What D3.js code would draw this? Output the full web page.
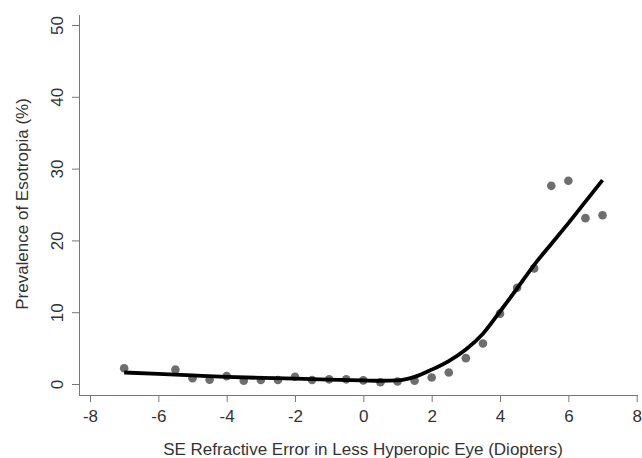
<!DOCTYPE html>
<html>
<head>
<meta charset="utf-8">
<script src="https://cdn.jsdelivr.net/npm/d3@7"></script>
<style>
  body { margin: 0; background: #fff; }
  text { font-family: "Liberation Sans", Arial, sans-serif; }
</style>
</head>
<body>
<svg width="642" height="458"></svg>
<script>
// observed prevalence by refractive error
var obsX = [-7, -5.5, -5, -4.5, -4, -3.5, -3, -2.5, -2, -1.5, -1, -0.5, 0, 0.5, 1, 1.5, 2, 2.5, 3, 3.5, 4, 4.5, 5, 5.5, 6, 6.5, 7]
var obsY = [2.2, 2.0, 0.8, 0.6, 1.1, 0.45, 0.55, 0.55, 1.0, 0.55, 0.65, 0.65, 0.5, 0.25, 0.35, 0.45, 0.9, 1.6, 3.6, 5.65, 9.8, 13.4, 16.1, 27.6, 28.3, 23.1, 23.5]

// fitted curve
var fitX = [-7, -6, -5, -4, -3, -2, -1, 0, 0.5, 1, 1.5, 2, 2.5, 3, 3.5, 4, 4.5, 5, 5.5, 6, 6.5, 7]
var fitY = [1.6, 1.4, 1.2, 1.0, 0.85, 0.75, 0.6, 0.5, 0.45, 0.5, 1.0, 2.0, 3.2, 4.8, 7.0, 10.1, 13.3, 16.6, 19.5, 22.4, 25.4, 28.4]

var xTicks = [-8, -6, -4, -2, 0, 2, 4, 6, 8]
var yTicks = [0, 10, 20, 30, 40, 50]

var svg = d3.select("svg")

var x = d3.scaleLinear().domain([-8, 8]).range([90, 636.7])
var y = d3.scaleLinear().domain([0, 50]).range([384, 25])

// x axis
var gx = svg.append("g")
    .attr("transform", "translate(0,395)")
    .call(d3.axisBottom(x).tickValues(xTicks).tickFormat(d => String(d)).tickSize(7).tickPadding(8).tickSizeOuter(0))
gx.select(".domain").attr("d", "M79,0.5H638").attr("stroke", "#777")
gx.selectAll(".tick line").attr("stroke", "#777")
gx.selectAll(".tick text").attr("font-size", 17).attr("fill", "#333").attr("font-family", "Liberation Sans, Arial, sans-serif")

// y axis
var gy = svg.append("g")
    .attr("transform", "translate(79,0)")
    .call(d3.axisLeft(y).tickValues(yTicks).tickFormat(d => String(d)).tickSize(7).tickSizeOuter(0))
gy.select(".domain").attr("d", "M0.5,15V395").attr("stroke", "#777")
gy.selectAll(".tick line").attr("stroke", "#777")
gy.selectAll(".tick text")
    .attr("font-size", 17).attr("fill", "#333").attr("font-family", "Liberation Sans, Arial, sans-serif")
    .attr("x", null).attr("dy", null)
    .attr("text-anchor", "middle")
    .attr("transform", "translate(-16,0) rotate(-90)")

// points
svg.append("g")
    .selectAll("circle")
    .data(obsX)
    .join("circle")
    .attr("cx", d => x(d))
    .attr("cy", (d, i) => y(obsY[i]))
    .attr("r", 4.3)
    .attr("fill", "#6e6e6e")

// fitted line
var line = d3.line()
    .x(d => x(d))
    .y((d, i) => y(fitY[i]))
    .curve(d3.curveMonotoneX)

svg.append("path")
    .datum(fitX)
    .attr("d", line)
    .attr("fill", "none")
    .attr("stroke", "#000")
    .attr("stroke-width", 3.8)

// titles
svg.append("text")
    .attr("x", 363)
    .attr("y", 455)
    .attr("text-anchor", "middle")
    .attr("font-size", 17)
    .attr("fill", "#333")
    .text("SE Refractive Error in Less Hyperopic Eye (Diopters)")

svg.append("text")
    .attr("transform", "translate(28,204) rotate(-90)")
    .attr("text-anchor", "middle")
    .attr("font-size", 17)
    .attr("fill", "#333")
    .text("Prevalence of Esotropia (%)")
</script>
</body>
</html>
